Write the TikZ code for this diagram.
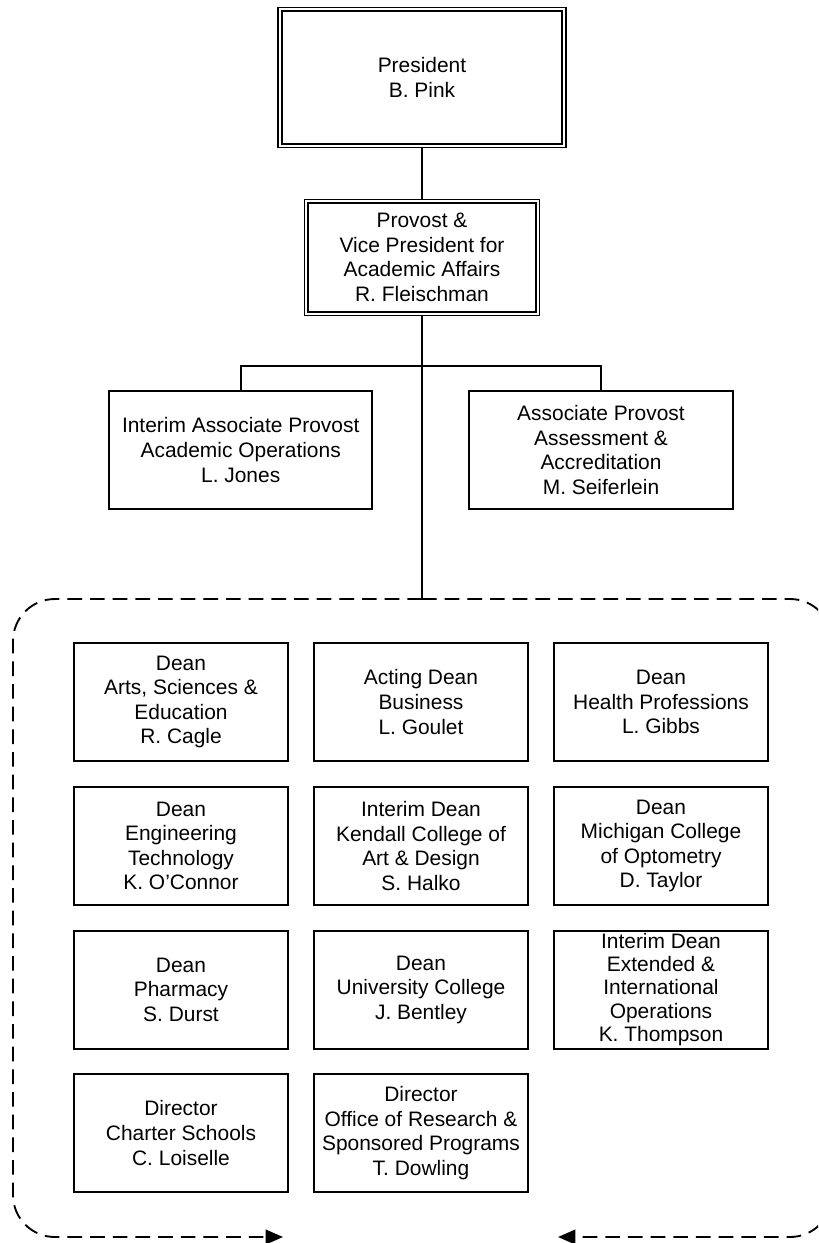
\documentclass[tikz,border=0pt]{standalone}
\usepackage{fontspec}
\setmainfont{Liberation Sans}
\usetikzlibrary{arrows.meta}
\tikzstyle{box}=[draw,line width=1.5pt,align=center,inner sep=0pt,font=\fontsize{15.7}{18.4}\selectfont]
\tikzstyle{dean}=[box,minimum width=161pt,minimum height=88.5pt]
\tikzstyle{assoc}=[box,minimum width=197.5pt,minimum height=88.5pt]
\tikzstyle{headbox}=[box,double,line width=1.1pt,double distance=1.7pt]
\tikzstyle{link}=[line width=1.4pt]
\tikzstyle{dashline}=[line width=1.4pt,dash pattern=on 11pt off 6pt,rounded corners=31.5pt,-{Triangle[length=13pt,width=11pt]}]

\begin{document}
\begin{tikzpicture}[x=0.75pt, y=-0.75pt]
    \useasboundingbox (0,0) rectangle (818,1243);

    \node[headbox,minimum width=213pt,minimum height=102.5pt] (P) at (422,77.5) {President\\B. Pink};
    \node[headbox,minimum width=173.5pt,minimum height=84.5pt] (VP) at (422,257.5) {Provost \&\\Vice President for\\Academic Affairs\\R. Fleischman};

    \node[assoc] (A1) at (240.7,450) {Interim Associate Provost\\Academic Operations\\L. Jones};
    \node[assoc] (A2) at (601,450) {Associate Provost\\Assessment \&\\Accreditation\\M. Seiferlein};

    \foreach \pos/ \name / \label in {{(181,702)/D11/Dean\\Arts, Sciences \&\\Education\\R. Cagle},
        {(421,702)/D12/Acting Dean\\Business\\L. Goulet},
        {(661,702)/D13/Dean\\Health Professions\\L. Gibbs},
        {(181,846)/D21/Dean\\Engineering\\Technology\\K. O’Connor},
        {(421,846)/D22/Interim Dean\\Kendall College of\\Art \& Design\\S. Halko},
        {(661,846)/D23/Dean\\Michigan College\\of Optometry\\D. Taylor},
        {(181,989.5)/D31/Dean\\Pharmacy\\S. Durst},
        {(421,989.5)/D32/Dean\\University College\\J. Bentley},
        {(181,1133)/D41/Director\\Charter Schools\\C. Loiselle},
        {(421,1133)/D42/Director\\Office of Research \&\\Sponsored Programs\\T. Dowling}}
        \node[dean] (\name) at \pos {\label};
    \node[dean,font=\fontsize{15.7}{17.4}\selectfont] (D33) at (661,989.5) {Interim Dean\\Extended \&\\International\\Operations\\K. Thompson};

    \coordinate (B) at (422,366);
    \coordinate (T) at (422,599);
    \draw[link] (P.south) -- (VP.north);
    \draw[link] (VP.south) -- (T);
    \draw[link] (A1.north) |- (B) -| (A2.north);

    \begin{scope}
        \clip (0,0) rectangle (818,1243);
        \draw[dashline] (T) -- (13,599) -- (13,1237) -- (283,1237);
        \draw[dashline] (T) -- (832,599) -- (832,1237) -- (558,1237);
    \end{scope}
\end{tikzpicture}
\end{document}
